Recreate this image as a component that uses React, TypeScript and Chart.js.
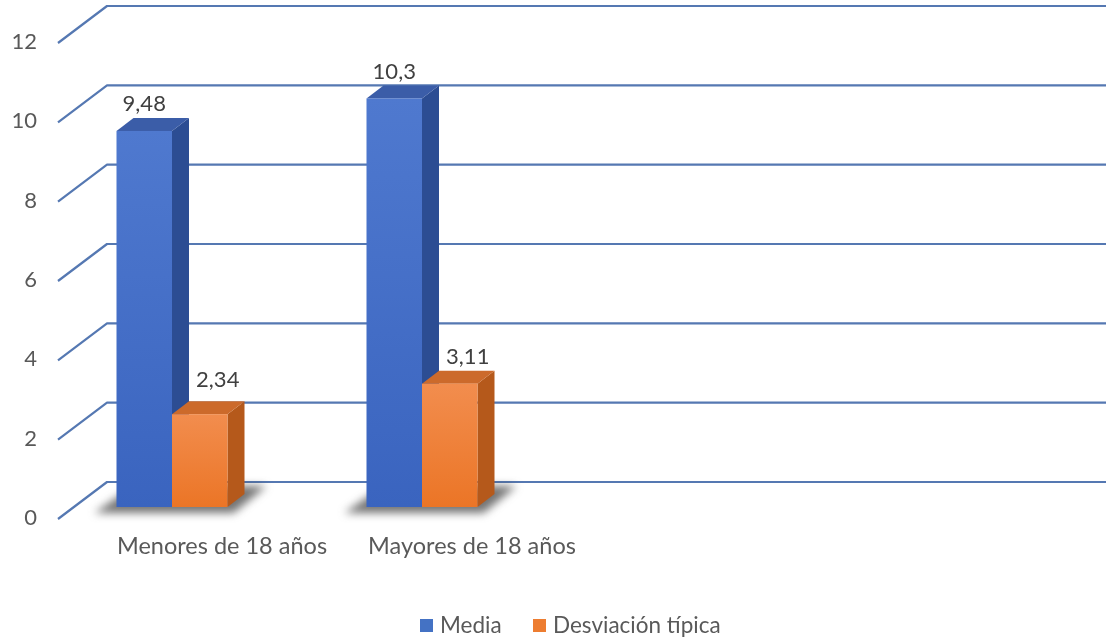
import React, { useEffect, useRef } from "react";
import { Chart, registerables } from "chart.js";

Chart.register(...registerables);

const categories = ["Menores de 18 años", "Mayores de 18 años", "", ""];
const mediaValues = [9.48, 10.3, null, null];
const desviacionValues = [2.34, 3.11, null, null];
const seriesNames = ["Media", "Desviación típica"];
const yTicks = [0, 2, 4, 6, 8, 10, 12];

const FONT = "Lato, 'Open Sans', sans-serif";
const W = 1106;
const H = 644;

const palette = [
  { frontTop: "#4f79cf", frontBottom: "#3a64bf", side: "#2c4d93", top: "#3b5da8" },
  { frontTop: "#f28d4e", frontBottom: "#eb7526", side: "#b5591b", top: "#cc6a2b" },
];

const fmt = (v: number) => String(v).replace(".", ",");

const threeD = {
  id: "threeD",
  beforeDraw(chart: any) {
    const ctx = chart.ctx;
    const ys = chart.scales.y;
    ctx.save();
    ctx.fillStyle = "#ffffff";
    ctx.fillRect(0, 0, W, H);
    // gridlines (front diagonal + back wall)
    ctx.strokeStyle = "#5578b2";
    ctx.lineWidth = 2.2;
    ctx.lineJoin = "round";
    for (const v of yTicks) {
      const yb = ys.getPixelForValue(v);
      ctx.beginPath();
      ctx.moveTo(58, yb + 12);
      ctx.lineTo(107, yb - 25);
      ctx.lineTo(W, yb - 25);
      ctx.stroke();
    }
    // y tick labels
    ctx.fillStyle = "#595959";
    ctx.font = `22px ${FONT}`;
    ctx.textAlign = "right";
    ctx.textBaseline = "middle";
    for (const v of yTicks) {
      const yb = ys.getPixelForValue(v);
      ctx.fillText(String(v), 37, yb + 11);
    }
    ctx.restore();
  },
  beforeDatasetDraw() {
    return false;
  },
  afterDatasetsDraw(chart: any) {
    const ctx = chart.ctx;
    const xs = chart.scales.x;
    const dx = 17;
    const dy = -13;
    const metas = [chart.getDatasetMeta(0), chart.getDatasetMeta(1)];
    ctx.save();
    // shadows
    categories.forEach((_, i) => {
      const a = metas[0].data[i];
      const b = metas[1].data[i];
      const va = chart.data.datasets[0].data[i];
      if (va == null) return;
      const left = a.x - a.width / 2;
      const right = b.x + b.width / 2;
      const base = a.base;
      ctx.save();
      ctx.filter = "blur(4px)";
      ctx.fillStyle = "rgba(70,70,70,0.75)";
      ctx.beginPath();
      ctx.moveTo(left - 22, base + 6);
      ctx.lineTo(right + 6, base + 6);
      ctx.lineTo(right + dx + 22, base + dy - 8);
      ctx.lineTo(left + dx, base + dy - 8);
      ctx.closePath();
      ctx.fill();
      ctx.restore();
    });
    // bars
    categories.forEach((_, i) => {
      metas.forEach((meta, d) => {
        const el = meta.data[i];
        const val = chart.data.datasets[d].data[i];
        if (val == null) return;
        const c = palette[d];
        const left = el.x - el.width / 2;
        const right = el.x + el.width / 2;
        const top = el.y;
        const bottom = el.base;
        // side
        ctx.fillStyle = c.side;
        ctx.beginPath();
        ctx.moveTo(right, top);
        ctx.lineTo(right + dx, top + dy);
        ctx.lineTo(right + dx, bottom + dy);
        ctx.lineTo(right, bottom);
        ctx.closePath();
        ctx.fill();
        // top
        ctx.fillStyle = c.top;
        ctx.beginPath();
        ctx.moveTo(left, top);
        ctx.lineTo(left + dx, top + dy);
        ctx.lineTo(right + dx, top + dy);
        ctx.lineTo(right, top);
        ctx.closePath();
        ctx.fill();
        // front
        const fg = ctx.createLinearGradient(0, top, 0, bottom);
        fg.addColorStop(0, c.frontTop);
        fg.addColorStop(1, c.frontBottom);
        ctx.fillStyle = fg;
        ctx.fillRect(left, top, right - left, bottom - top);
      });
    });
    // data labels
    ctx.fillStyle = "#404040";
    ctx.font = `22px ${FONT}`;
    ctx.textAlign = "center";
    ctx.textBaseline = "middle";
    categories.forEach((_, i) => {
      metas.forEach((meta, d) => {
        const el = meta.data[i];
        const val = chart.data.datasets[d].data[i];
        if (val == null) return;
        const off = d === 0 ? 0 : 18;
        const up = d === 1 && i === 0 ? 34 : 27;
        ctx.fillText(fmt(val), el.x + off, el.y - up);
      });
    });
    // category labels
    ctx.fillStyle = "#595959";
    ctx.font = `23.5px ${FONT}`;
    categories.forEach((lab, i) => {
      if (!lab) return;
      ctx.fillText(lab, xs.getPixelForValue(i) + 50, 546);
    });
    // legend
    ctx.font = `22.5px ${FONT}`;
    ctx.textAlign = "left";
    const legendX = [420, 533];
    seriesNames.forEach((name, d) => {
      ctx.fillStyle = d === 0 ? "#4472c4" : "#ed7d31";
      ctx.fillRect(legendX[d], 619, 13, 13);
      ctx.fillStyle = "#595959";
      ctx.fillText(name, legendX[d] + 20, 626);
    });
    ctx.restore();
  },
};

export default function App() {
  const ref = useRef<HTMLCanvasElement>(null);
  useEffect(() => {
    if (!ref.current) return;
    const chart = new Chart(ref.current, {
      type: "bar",
      data: {
        labels: categories,
        datasets: [
          { label: seriesNames[0], data: mediaValues, backgroundColor: "#4472c4" },
          { label: seriesNames[1], data: desviacionValues, backgroundColor: "#ed7d31" },
        ],
      },
      options: {
        responsive: false,
        animation: false,
        layout: { padding: { left: 47, right: 59, top: 31, bottom: 137 } },
        plugins: { legend: { display: false }, tooltip: { enabled: false } },
        datasets: { bar: { categoryPercentage: 0.444, barPercentage: 1 } },
        scales: {
          x: { display: false },
          y: { display: false, min: 0, max: 12 },
        },
      },
      plugins: [threeD],
    });
    return () => chart.destroy();
  }, []);
  return (
    <div style={{ position: "fixed", left: 0, top: 0, width: W, height: H, background: "#fff" }}>
      <canvas ref={ref} width={W} height={H} />
    </div>
  );
}
